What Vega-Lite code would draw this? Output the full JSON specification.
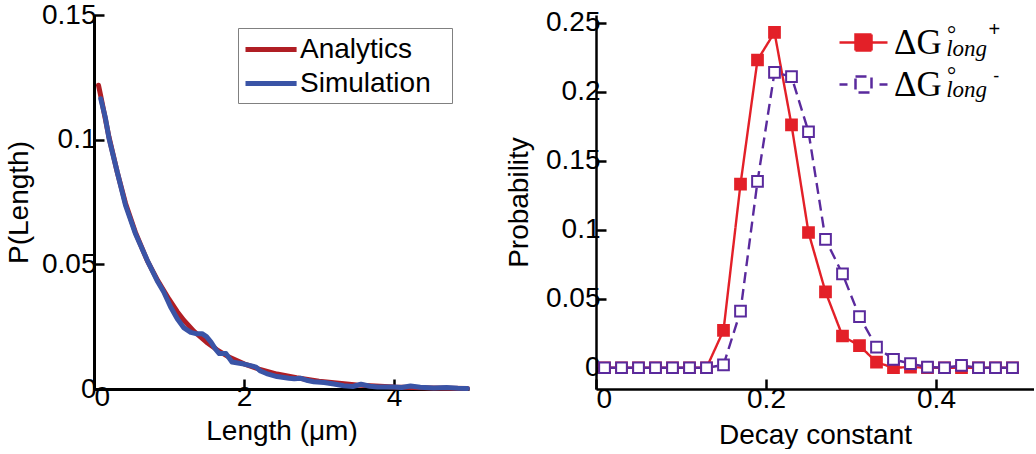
{
  "$schema": "https://vega.github.io/schema/vega-lite/v6.json",
  "background": "white",
  "padding": {"left": 5, "top": 1, "right": 0, "bottom": 0},
  "spacing": 34,
  "resolve": {
    "scale": {"color": "independent", "strokeDash": "independent", "fill": "independent", "x": "independent", "y": "independent"},
    "legend": {"color": "independent"}
  },
  "config": {
    "view": {"stroke": null},
    "font": "Liberation Sans",
    "axis": {
      "grid": false,
      "domainColor": "#000",
      "domainWidth": 3,
      "tickColor": "#000",
      "tickWidth": 2.5,
      "tickSize": -10,
      "labelFont": "Liberation Sans",
      "labelFontSize": 28,
      "labelColor": "#000",
      "titleFont": "Liberation Sans",
      "titleFontSize": 28,
      "titleFontWeight": "normal",
      "titleColor": "#000"
    }
  },
  "datasets": {
    "lengths": [
      {"series": "Analytics", "len": 0.06, "p": 0.1218},
      {"series": "Analytics", "len": 0.09, "p": 0.1175},
      {"series": "Analytics", "len": 0.2, "p": 0.101},
      {"series": "Analytics", "len": 0.31, "p": 0.087},
      {"series": "Analytics", "len": 0.42, "p": 0.0745},
      {"series": "Analytics", "len": 0.55, "p": 0.063},
      {"series": "Analytics", "len": 0.71, "p": 0.0515},
      {"series": "Analytics", "len": 0.85, "p": 0.0435},
      {"series": "Analytics", "len": 0.93, "p": 0.0395},
      {"series": "Analytics", "len": 1.0, "p": 0.036},
      {"series": "Analytics", "len": 1.11, "p": 0.031},
      {"series": "Analytics", "len": 1.2, "p": 0.0275},
      {"series": "Analytics", "len": 1.33, "p": 0.0232},
      {"series": "Analytics", "len": 1.5, "p": 0.0188},
      {"series": "Analytics", "len": 1.64, "p": 0.0157},
      {"series": "Analytics", "len": 1.8, "p": 0.0128},
      {"series": "Analytics", "len": 2.0, "p": 0.0101},
      {"series": "Analytics", "len": 2.2, "p": 0.008},
      {"series": "Analytics", "len": 2.44, "p": 0.006},
      {"series": "Analytics", "len": 2.7, "p": 0.0045},
      {"series": "Analytics", "len": 3.0, "p": 0.0031},
      {"series": "Analytics", "len": 3.5, "p": 0.0016},
      {"series": "Analytics", "len": 4.0, "p": 0.0008},
      {"series": "Analytics", "len": 4.5, "p": 0.0004},
      {"series": "Analytics", "len": 4.98, "p": 0.0002},
      {"series": "Simulation", "len": 0.09, "p": 0.1164},
      {"series": "Simulation", "len": 0.15, "p": 0.109},
      {"series": "Simulation", "len": 0.2, "p": 0.1005},
      {"series": "Simulation", "len": 0.31, "p": 0.087},
      {"series": "Simulation", "len": 0.42, "p": 0.0737},
      {"series": "Simulation", "len": 0.55, "p": 0.0625},
      {"series": "Simulation", "len": 0.71, "p": 0.0516},
      {"series": "Simulation", "len": 0.85, "p": 0.043},
      {"series": "Simulation", "len": 0.93, "p": 0.0389},
      {"series": "Simulation", "len": 1.02, "p": 0.033},
      {"series": "Simulation", "len": 1.11, "p": 0.0282},
      {"series": "Simulation", "len": 1.2, "p": 0.0245},
      {"series": "Simulation", "len": 1.29, "p": 0.0227},
      {"series": "Simulation", "len": 1.36, "p": 0.0222},
      {"series": "Simulation", "len": 1.44, "p": 0.0222},
      {"series": "Simulation", "len": 1.5, "p": 0.021},
      {"series": "Simulation", "len": 1.56, "p": 0.0188},
      {"series": "Simulation", "len": 1.62, "p": 0.016},
      {"series": "Simulation", "len": 1.67, "p": 0.0142},
      {"series": "Simulation", "len": 1.76, "p": 0.0142},
      {"series": "Simulation", "len": 1.84, "p": 0.0108},
      {"series": "Simulation", "len": 1.92, "p": 0.0104},
      {"series": "Simulation", "len": 2.0, "p": 0.01},
      {"series": "Simulation", "len": 2.1, "p": 0.0093},
      {"series": "Simulation", "len": 2.16, "p": 0.0088},
      {"series": "Simulation", "len": 2.22, "p": 0.0072},
      {"series": "Simulation", "len": 2.3, "p": 0.0062},
      {"series": "Simulation", "len": 2.44, "p": 0.005},
      {"series": "Simulation", "len": 2.6, "p": 0.0043},
      {"series": "Simulation", "len": 2.67, "p": 0.0041},
      {"series": "Simulation", "len": 2.76, "p": 0.0043},
      {"series": "Simulation", "len": 2.85, "p": 0.0034},
      {"series": "Simulation", "len": 2.93, "p": 0.0029},
      {"series": "Simulation", "len": 3.07, "p": 0.0026},
      {"series": "Simulation", "len": 3.2, "p": 0.002},
      {"series": "Simulation", "len": 3.33, "p": 0.0013},
      {"series": "Simulation", "len": 3.45, "p": 0.001},
      {"series": "Simulation", "len": 3.56, "p": 0.0019},
      {"series": "Simulation", "len": 3.68, "p": 0.0011},
      {"series": "Simulation", "len": 3.78, "p": 0.0008},
      {"series": "Simulation", "len": 4.0, "p": 0.0008},
      {"series": "Simulation", "len": 4.1, "p": 0.0006},
      {"series": "Simulation", "len": 4.22, "p": 0.0012},
      {"series": "Simulation", "len": 4.35, "p": 0.0007},
      {"series": "Simulation", "len": 4.53, "p": 0.0004},
      {"series": "Simulation", "len": 4.7, "p": 0.0006},
      {"series": "Simulation", "len": 4.85, "p": 0.0003},
      {"series": "Simulation", "len": 4.98, "p": 0.0002}
    ],
    "decay": [
      {"s": "plus", "k": 0.01, "p": 0},
      {"s": "plus", "k": 0.03, "p": 0},
      {"s": "plus", "k": 0.05, "p": 0},
      {"s": "plus", "k": 0.07, "p": 0},
      {"s": "plus", "k": 0.09, "p": 0},
      {"s": "plus", "k": 0.11, "p": 0},
      {"s": "plus", "k": 0.13, "p": 0},
      {"s": "plus", "k": 0.15, "p": 0.027},
      {"s": "plus", "k": 0.17, "p": 0.133},
      {"s": "plus", "k": 0.19, "p": 0.223},
      {"s": "plus", "k": 0.21, "p": 0.243},
      {"s": "plus", "k": 0.23, "p": 0.176},
      {"s": "plus", "k": 0.25, "p": 0.098},
      {"s": "plus", "k": 0.27, "p": 0.055},
      {"s": "plus", "k": 0.29, "p": 0.023},
      {"s": "plus", "k": 0.31, "p": 0.016},
      {"s": "plus", "k": 0.33, "p": 0.004},
      {"s": "plus", "k": 0.35, "p": 0},
      {"s": "plus", "k": 0.37, "p": 0.0005},
      {"s": "plus", "k": 0.39, "p": 0},
      {"s": "plus", "k": 0.41, "p": 0},
      {"s": "plus", "k": 0.43, "p": 0},
      {"s": "plus", "k": 0.45, "p": 0},
      {"s": "plus", "k": 0.47, "p": 0},
      {"s": "plus", "k": 0.49, "p": 0},
      {"s": "minus", "k": 0.01, "p": 0},
      {"s": "minus", "k": 0.03, "p": 0},
      {"s": "minus", "k": 0.05, "p": 0},
      {"s": "minus", "k": 0.07, "p": 0},
      {"s": "minus", "k": 0.09, "p": 0},
      {"s": "minus", "k": 0.11, "p": 0},
      {"s": "minus", "k": 0.13, "p": 0},
      {"s": "minus", "k": 0.15, "p": 0.002},
      {"s": "minus", "k": 0.17, "p": 0.041},
      {"s": "minus", "k": 0.19, "p": 0.135},
      {"s": "minus", "k": 0.21, "p": 0.214},
      {"s": "minus", "k": 0.23, "p": 0.211},
      {"s": "minus", "k": 0.25, "p": 0.171},
      {"s": "minus", "k": 0.27, "p": 0.093},
      {"s": "minus", "k": 0.29, "p": 0.068},
      {"s": "minus", "k": 0.31, "p": 0.037},
      {"s": "minus", "k": 0.33, "p": 0.015},
      {"s": "minus", "k": 0.35, "p": 0.006},
      {"s": "minus", "k": 0.37, "p": 0.003},
      {"s": "minus", "k": 0.39, "p": 0.0005},
      {"s": "minus", "k": 0.41, "p": 0},
      {"s": "minus", "k": 0.43, "p": 0.0017},
      {"s": "minus", "k": 0.45, "p": 0},
      {"s": "minus", "k": 0.47, "p": 0},
      {"s": "minus", "k": 0.49, "p": 0}
    ]
  },
  "hconcat": [
    {
      "width": 375,
      "height": 374,
      "data": {"name": "lengths"},
      "mark": {"type": "line", "strokeWidth": 5, "strokeCap": "round", "strokeJoin": "round"},
      "encoding": {
        "x": {
          "field": "len", "type": "quantitative",
          "scale": {"domain": [0, 5], "nice": false, "zero": false},
          "axis": {"values": [0, 2, 4], "title": "Length (μm)", "titleY": 50, "titleBaseline": "alphabetic", "labelPadding": 4}
        },
        "y": {
          "field": "p", "type": "quantitative",
          "scale": {"domain": [0, 0.15], "nice": false},
          "axis": {"values": [0, 0.05, 0.1, 0.15], "labelExpr": "format(datum.value, '.2~f')", "title": "P(Length)", "titleX": -67, "titleBaseline": "alphabetic", "labelPadding": 8, "labelOverlap": false, "labelFlush": false, "labelBound": false}
        },
        "color": {
          "field": "series", "type": "nominal",
          "scale": {"domain": ["Analytics", "Simulation"], "range": ["#b01e24", "#3a54a6"]},
          "legend": {
            "title": "·", "titleOrient": "right", "titleColor": "#ffffff", "titleFontSize": 10, "titlePadding": 12,
            "orient": "none", "legendX": 144, "legendY": 13,
            "strokeColor": "#808080", "fillColor": "#ffffff", "padding": 5,
            "labelFont": "Liberation Sans", "labelFontSize": 28, "labelColor": "#000",
            "symbolType": "M-1,0H2.65", "symbolSize": 784, "symbolStrokeWidth": 5,
            "labelOffset": 24, "rowPadding": 3
          }
        }
      }
    },
    {
      "width": 438,
      "height": 374,
      "layer": [
        {
          "data": {"name": "decay"},
          "mark": {"type": "line", "strokeWidth": 2.4},
          "encoding": {
            "x": {
              "field": "k", "type": "quantitative",
              "scale": {"domain": [0, 0.5153], "nice": false, "zero": false},
              "axis": {"values": [0, 0.2, 0.4], "format": "~g", "title": "Decay constant", "titleY": 54, "titleBaseline": "alphabetic", "labelPadding": 6, "domainWidth": 2.5}
            },
            "y": {
              "field": "p", "type": "quantitative",
              "scale": {"domain": [-0.0154, 0.2556], "nice": false, "zero": false},
              "axis": {"values": [0, 0.05, 0.1, 0.15, 0.2, 0.25], "format": "~g", "title": "Probability", "titleX": -69, "titleBaseline": "alphabetic", "labelPadding": 6, "domainWidth": 2.5, "labelOverlap": false}
            },
            "color": {
              "field": "s", "type": "nominal",
              "scale": {"domain": ["plus", "minus"], "range": ["#e32028", "#5a2a9d"]},
              "legend": {
                "title": null, "orient": "none", "legendX": 250, "legendY": 10, "padding": 0,
                "labelExpr": "'ΔG'",
                "labelFont": "Liberation Serif", "labelFontSize": 35, "labelColor": "#000",
                "labelOffset": 13, "rowPadding": 6,
                "symbolSize": 1024, "symbolStrokeWidth": 2.5,
                "encode": {
                  "symbols": {
                    "update": {
                      "shape": {"signal": "datum.value === 'plus' ? 'M-1.5,0H1.5M-0.5,-0.5H0.5V0.5H-0.5Z' : 'M-1.5,0H-1M1,0H1.5M-0.5,-0.5H0.5V0.5H-0.5Z'"},
                      "fill": {"signal": "datum.value === 'plus' ? '#e32028' : '#ffffff'"},
                      "strokeDash": {"value": []},
                      "opacity": {"value": 1},
                      "fillOpacity": {"value": 1}
                    }
                  }
                }
              }
            },
            "strokeDash": {
              "field": "s", "type": "nominal",
              "scale": {"domain": ["plus", "minus"], "range": [[1, 0], [11, 6]]},
              "legend": null
            }
          }
        },
        {
          "data": {"name": "decay"},
          "mark": {"type": "point", "shape": "square", "size": 115, "strokeWidth": 2, "opacity": 1, "filled": false},
          "encoding": {
            "x": {"field": "k", "type": "quantitative"},
            "y": {"field": "p", "type": "quantitative"},
            "color": {"field": "s", "type": "nominal"},
            "fill": {
              "field": "s", "type": "nominal",
              "scale": {"domain": ["plus", "minus"], "range": ["#e32028", "#ffffff"]},
              "legend": null
            }
          }
        },
        {
          "data": {"values": [{}]},
          "mark": {"type": "text", "text": ["°", "long"], "lineHeight": 14, "font": "Liberation Serif", "fontStyle": "italic", "fontSize": 23, "align": "left", "baseline": "alphabetic", "color": "#000"},
          "encoding": {"x": {"datum": 0.412, "type": "quantitative"}, "y": {"datum": 0.2357, "type": "quantitative"}}
        },
        {
          "data": {"values": [{}]},
          "mark": {"type": "text", "text": "+", "font": "Liberation Sans", "fontSize": 20, "align": "center", "baseline": "alphabetic", "color": "#000"},
          "encoding": {"x": {"datum": 0.4685, "type": "quantitative"}, "y": {"datum": 0.2405, "type": "quantitative"}}
        },
        {
          "data": {"values": [{}]},
          "mark": {"type": "text", "text": ["°", "long"], "lineHeight": 14, "font": "Liberation Serif", "fontStyle": "italic", "fontSize": 23, "align": "left", "baseline": "alphabetic", "color": "#000"},
          "encoding": {"x": {"datum": 0.412, "type": "quantitative"}, "y": {"datum": 0.206, "type": "quantitative"}}
        },
        {
          "data": {"values": [{}]},
          "mark": {"type": "text", "text": "-", "font": "Liberation Sans", "fontSize": 18, "align": "center", "baseline": "alphabetic", "color": "#000"},
          "encoding": {"x": {"datum": 0.471, "type": "quantitative"}, "y": {"datum": 0.2073, "type": "quantitative"}}
        }
      ]
    }
  ]
}
